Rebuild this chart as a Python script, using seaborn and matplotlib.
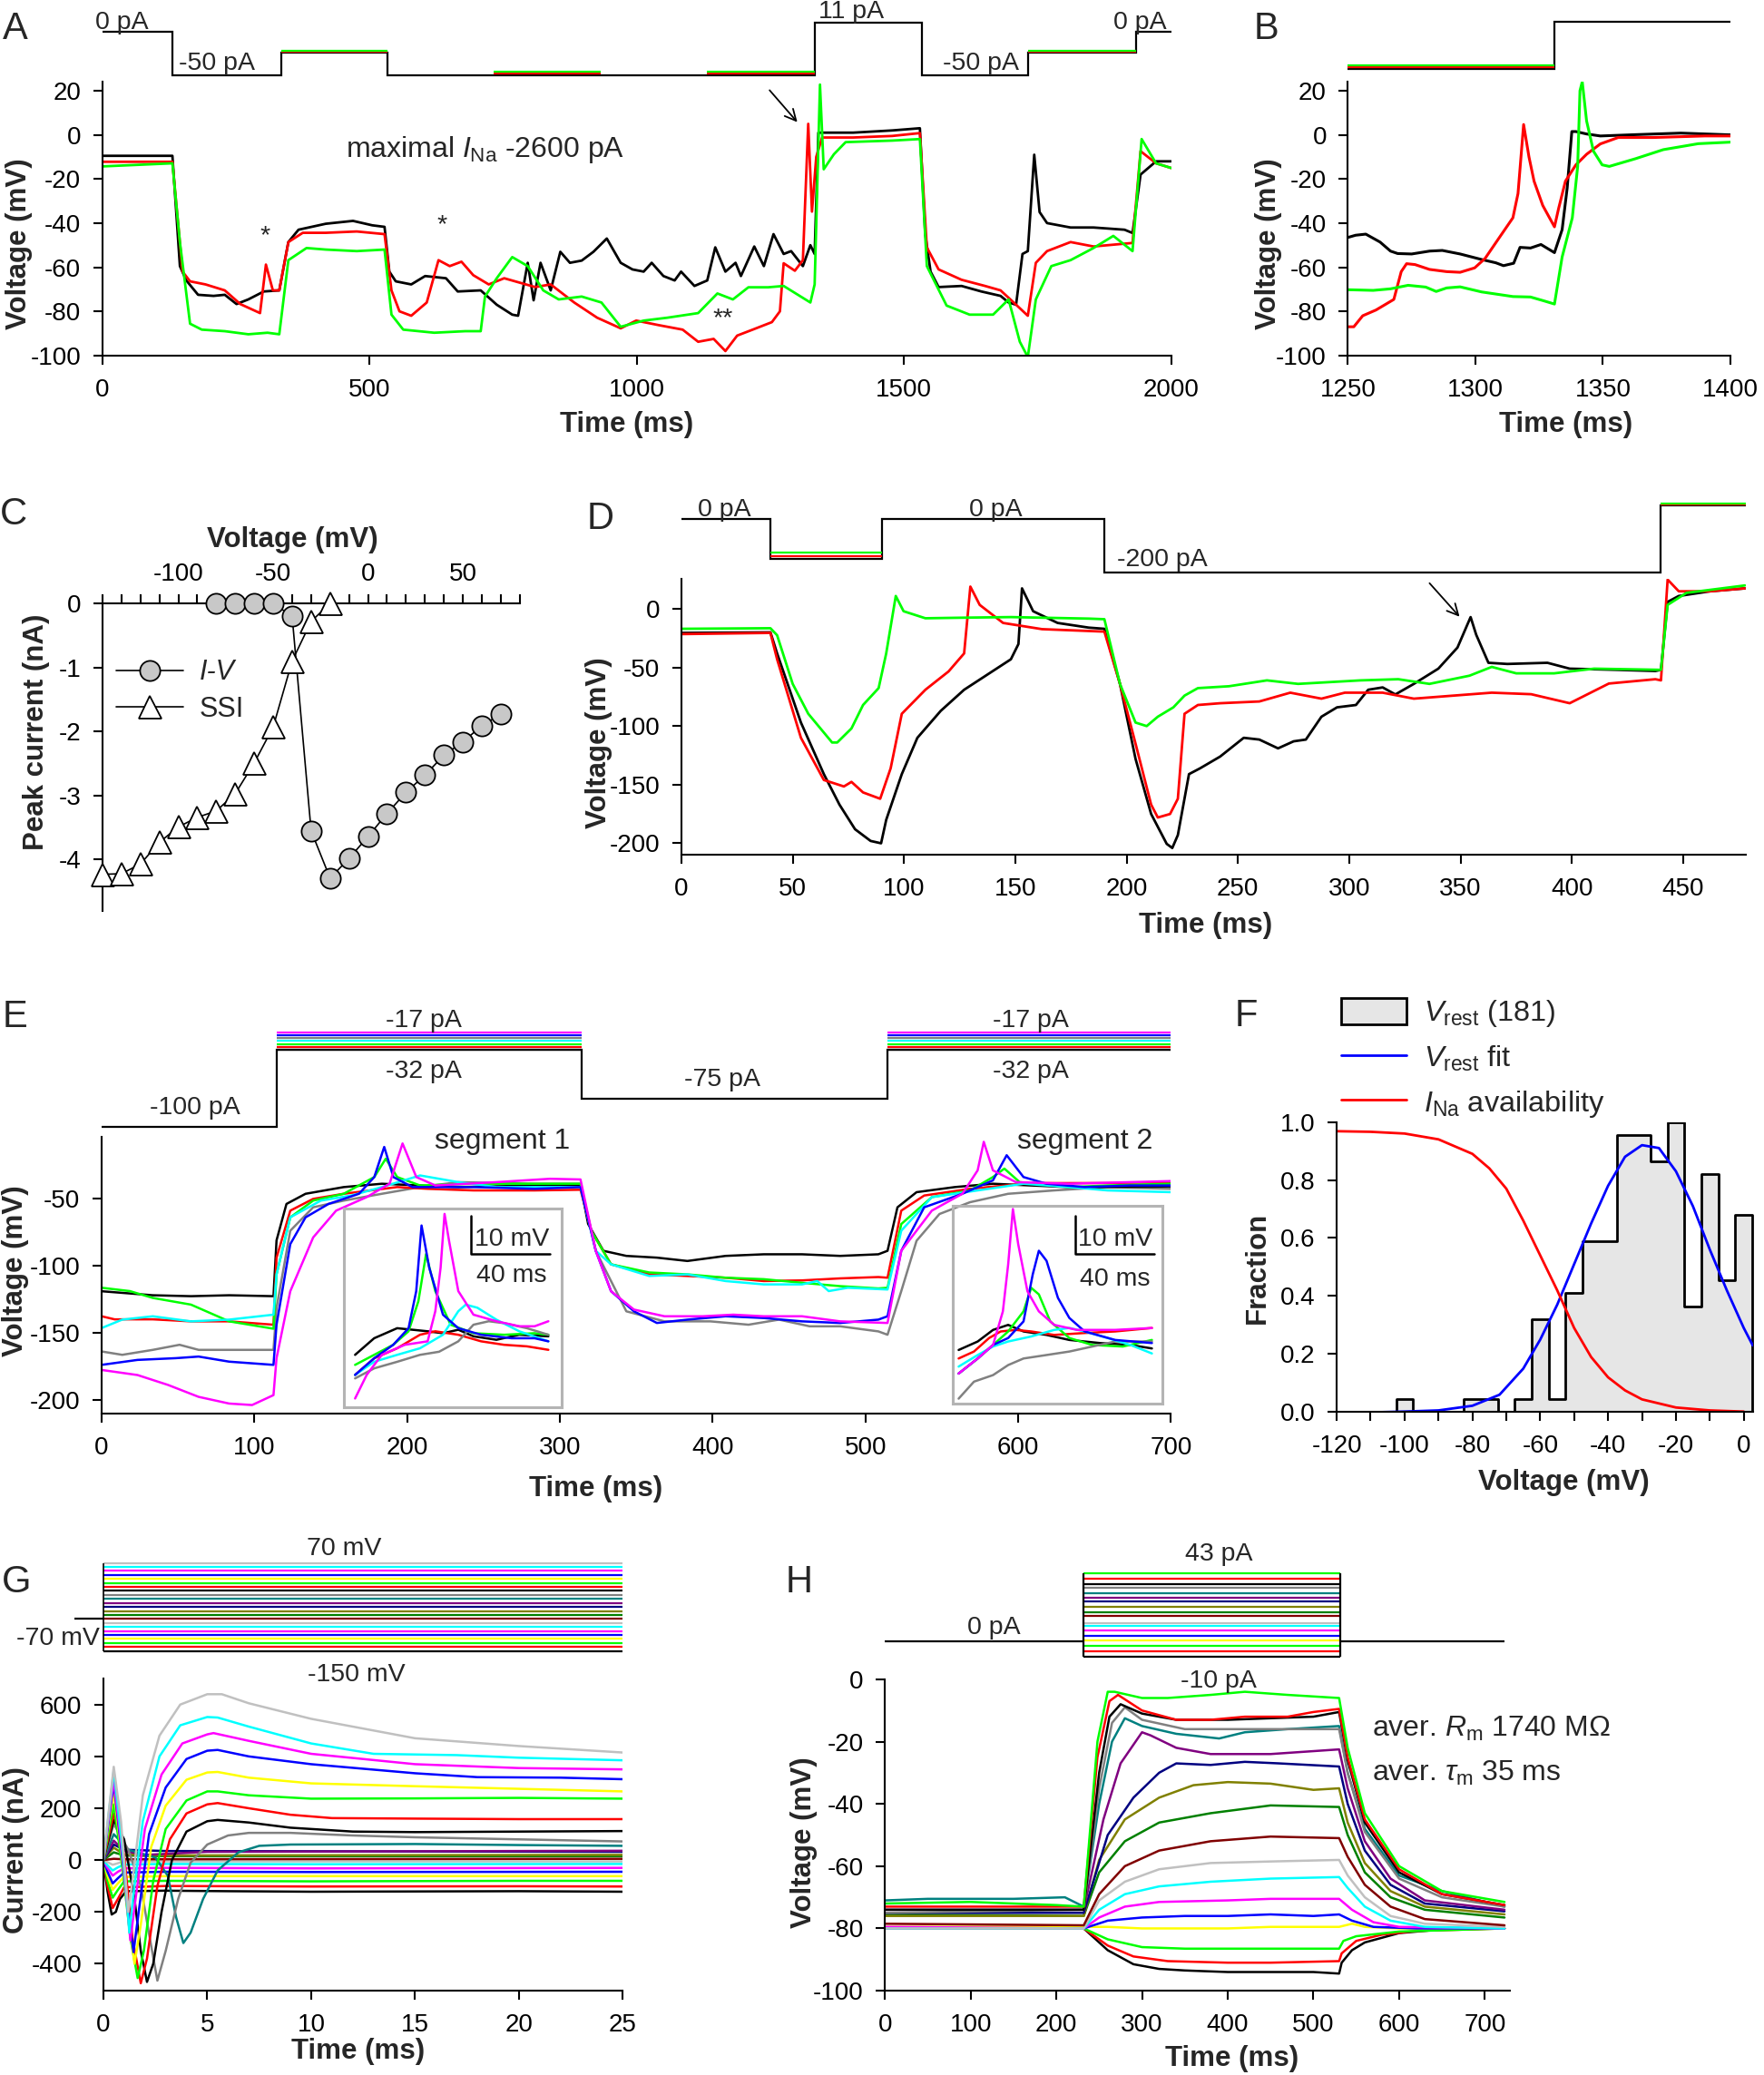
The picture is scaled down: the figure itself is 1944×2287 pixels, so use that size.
import numpy as np
import matplotlib
matplotlib.use('Agg')
import matplotlib.pyplot as plt
from matplotlib.lines import Line2D
from matplotlib.patches import Patch
import seaborn as sns

# ---------------- data ----------------
# colours (SigmaPlot default cycle)
BLACK, RED, GREEN, YELLOW = '#000000', '#ff0000', '#00ff00', '#ffff00'
BLUE, MAGENTA, CYAN, LGRAY = '#0000ff', '#ff00ff', '#00ffff', '#c0c0c0'
DRED, DGREEN, OLIVE, NAVY = '#800000', '#008000', '#808000', '#000080'
PURPLE, TEAL, DGRAY = '#800080', '#008080', '#808080'

# A: voltage (mV) vs time (ms)
A_BLACK = [(0, -9.5), (131, -9.5), (145, -59.5), (157, -66), (179, -72.5), (208, -73), (229, -72.5),
           (251, -76.7), (273, -74.6), (302, -71), (331, -70.5), (348, -48.6), (367, -43), (418, -40.3),
           (469, -39), (505, -41), (528, -41.7), (537, -62), (549, -66.4), (578, -67.8), (604, -64),
           (643, -65), (665, -71), (708, -70.5), (738, -77), (767, -81.5), (778, -82), (796, -58),
           (807, -75), (820, -58), (839, -70.5), (857, -53), (875, -58), (897, -57), (919, -53),
           (944, -47), (970, -58), (992, -61), (1013, -62), (1028, -58), (1050, -64), (1071, -66),
           (1083, -62), (1108, -68.5), (1132, -66), (1147, -51), (1166, -62), (1185, -58), (1195, -64),
           (1220, -50.6), (1238, -59.5), (1256, -45), (1275, -54), (1289, -52.7), (1311, -59.5),
           (1325, -50), (1333, -54), (1340, 1), (1362, 1), (1405, 1), (1478, 2), (1530, 3), (1540, -45),
           (1550, -62), (1565, -69), (1608, -68.5), (1645, -71), (1681, -73), (1696, -76), (1710, -77),
           (1722, -54), (1732, -52.7), (1744, -9), (1754, -35), (1768, -40), (1812, -42), (1855, -42),
           (1913, -43), (1928, -44.5), (1943, -18), (1972, -12), (2000, -12)]
A_RED = [(0, -12.2), (131, -12.2), (150, -62), (164, -66.4), (193, -67.8), (229, -70.5), (258, -76.7),
         (295, -80.8), (306, -58.8), (319, -70.5), (331, -70.5), (348, -48.6), (375, -44.4), (418, -44.4),
         (476, -43.8), (528, -45), (541, -70.5), (556, -80), (578, -82), (607, -76), (629, -56.8),
         (650, -59.5), (672, -57.5), (694, -63.6), (723, -67.8), (752, -65), (810, -69), (839, -67.8),
         (883, -76), (926, -82.9), (970, -87.7), (999, -84.2), (1042, -86.3), (1086, -88.3), (1115, -93.8),
         (1144, -92.5), (1166, -98), (1188, -91), (1217, -88.3), (1253, -84.9), (1268, -80), (1275, -58.2),
         (1296, -61.6), (1311, -56.8), (1321, 5), (1328, -34.8), (1336, -10), (1347, -1.2), (1405, -1.2),
         (1478, -0.5), (1530, 0.8), (1543, -51), (1565, -61), (1608, -65.7), (1652, -68.5), (1681, -70.5),
         (1710, -77), (1732, -82), (1747, -58), (1768, -52.7), (1812, -48.6), (1855, -50.6), (1928, -49),
         (1943, -7.4), (1972, -12.9), (2000, -15)]
A_GREEN = [(0, -14.3), (131, -12.9), (145, -48.6), (164, -85.6), (186, -88.3), (229, -89), (273, -90.4),
           (309, -89.7), (331, -90.4), (348, -56.8), (382, -51.3), (418, -52), (476, -52.7), (528, -52),
           (541, -81.5), (563, -88.3), (621, -89.7), (679, -89), (708, -89), (716, -73.3), (738, -65),
           (767, -55.4), (796, -59.5), (825, -70.5), (854, -74.6), (897, -73.3), (934, -76), (970, -87),
           (1013, -84.2), (1057, -82.9), (1115, -80.8), (1151, -71.9), (1180, -74.6), (1209, -69.1),
           (1246, -69.1), (1275, -68.5), (1325, -76), (1333, -67.8), (1343, 22.8), (1350, -15.6),
           (1369, -8.8), (1391, -3.3), (1478, -2.6), (1530, -1.9), (1543, -59.5), (1580, -77.4),
           (1623, -81.5), (1667, -81.5), (1696, -74.6), (1717, -93.8), (1732, -100.7), (1747, -74.6),
           (1776, -59.5), (1812, -56.8), (1855, -51.3), (1892, -45.8), (1928, -52.7), (1945, -1.9),
           (1972, -12.9), (2000, -15)]
A_STIM_EDGES = [0, 131, 334, 534, 1333, 1533, 1733, 1934, 2000]
A_STIM_PA = [0, -50, -24.5, -50, 11, -50, -24.5, 0]
A_STIM_EXTRA = [(334, 534, -23, RED), (334, 534, -21.7, GREEN), (733, 933, -48.2, RED), (733, 933, -46.2, GREEN),
                (1132, 1333, -48.2, RED), (1132, 1333, -46.2, GREEN), (1733, 1934, -23, RED),
                (1733, 1934, -21.7, GREEN)]

# B: zoom of A around 1250-1400 ms
B_BLACK = [(1250, -46.5), (1253, -45.5), (1257, -45), (1262.6, -48.6), (1266.7, -52.7), (1269.5, -53.8),
           (1275, -54), (1282, -52.7), (1287, -52.4), (1294, -54), (1302.4, -56.5), (1308, -58), (1311, -59.3),
           (1315, -58.2), (1317.5, -51), (1321.6, -51.3), (1325.7, -49.7), (1331, -53.4), (1334, -43),
           (1336, -24), (1337.8, 1.5), (1339.4, 1.5), (1343.6, 0.4), (1349, -0.5), (1362.8, 0.1),
           (1380.6, 0.8), (1400, 0)]
B_RED = [(1250, -87), (1252.3, -87), (1255.8, -82), (1261, -79.4), (1268, -74.6), (1270.9, -62), (1273, -58.4),
         (1276.3, -58.8), (1282, -61), (1288.7, -62), (1294, -62.3), (1299.7, -60.3), (1303.8, -56),
         (1309, -47.2), (1314.7, -37.6), (1316.7, -26.6), (1318.9, 4.7), (1321, -10), (1323, -21),
         (1326.4, -32), (1331, -41.7), (1332.6, -33.5), (1335.3, -21), (1339.4, -13.6), (1343.6, -8.8),
         (1349, -4.1), (1356, -1.2), (1369.7, -1.2), (1390, -0.5), (1400, -0.5)]
B_GREEN = [(1250, -70.2), (1259.9, -70.5), (1266.7, -69.8), (1273.6, -68.2), (1280.5, -69), (1284.6, -71),
           (1288.7, -69.4), (1294, -68.9), (1302.4, -71.2), (1314.7, -73.3), (1321.6, -73.5), (1327, -75.3),
           (1331, -76.7), (1334, -55.4), (1338, -37.6), (1340.1, -14.3), (1341, 20), (1341.9, 24.1),
           (1343.6, 6.3), (1346.3, -7.4), (1349.7, -13.6), (1352.5, -14.3), (1362.8, -10.8), (1373.7, -6.7),
           (1387.4, -4), (1400, -3.3)]
B_STIM_EDGES = [1250, 1331, 1400]
B_STIM_PA = [-50, 11]
B_STIM_EXTRA = [(1250, 1331, -47.6, RED), (1250, 1331, -44.8, GREEN)]

# C: peak current (nA) vs voltage (mV)
C_IV_MV = [-80, -70, -60, -50, -40, -30, -20, -10, 0, 10, 20, 30, 40, 50, 60, 70]
C_IV_NA = [0, 0, 0, 0, -0.2, -3.55, -4.29, -3.98, -3.64, -3.28, -2.95, -2.68, -2.37, -2.16, -1.91, -1.73]
C_SSI_MV = [-140, -130, -120, -110, -100, -90, -80, -70, -60, -50, -40, -30, -20]
C_SSI_NA = [-4.23, -4.22, -4.07, -3.73, -3.49, -3.34, -3.24, -2.97, -2.49, -1.93, -0.9, -0.28, 0.0]

# D
D_BLACK = [(0, -20.5), (40, -20), (43, -38), (53.7, -97), (64, -141), (71, -167), (78, -188), (85, -198),
           (89.7, -200), (92, -180), (99, -141), (106, -110), (116.5, -87), (127, -69), (137.5, -56),
           (148, -43), (151.4, -30), (153, 17.5), (158, -2), (169, -12), (183, -16), (190, -17), (197, -64),
           (204, -128), (211, -175), (218, -200.5), (220.5, -204), (223, -193), (228, -141), (233, -136),
           (242, -126), (252.6, -110), (259.6, -111.5), (268, -119), (275, -113), (280.5, -111.5),
           (287.5, -92), (294.5, -84), (303, -82), (308.5, -69), (315, -67), (320.7, -73), (329, -64),
           (340, -51), (348.6, -33), (354.5, -7), (357, -22), (362.5, -46), (371, -47), (389, -46),
           (399, -51), (420, -52), (437.5, -53), (440, -52), (443, 6), (448, 11), (462, 15), (477.7, 17.5)]
D_RED = [(0, -21.5), (40, -20.5), (43, -43), (53.7, -110), (64, -146), (73, -151.5), (76.4, -147.6),
         (81.6, -156.6), (89.3, -162), (94, -136), (99, -89.5), (109.6, -69), (120, -53.4), (127, -38),
         (129.8, 19), (134, 3.4), (144.5, -12), (162, -17.3), (190, -19.4), (197, -64), (204, -115),
         (211, -167), (214, -178), (219.5, -175), (223, -162), (226, -89.5), (232, -82), (242, -80.5),
         (259.6, -79), (273.5, -71.5), (287.5, -76.6), (298, -71.5), (315, -71.5), (329, -76.6), (346.8, -74),
         (364, -71.5), (381.7, -72.8), (399, -80.5), (416.6, -63.7), (437.5, -60), (440, -61), (443, 25),
         (448, 15), (462, 15), (477.7, 17.5)]
D_GREEN = [(0, -17), (40, -16.5), (43, -22.5), (50, -64), (57, -89.5), (67.7, -114), (70, -114), (76.4, -102),
           (81.6, -82), (88.6, -67.6), (92, -38), (96.3, 11), (99.8, -2), (109.6, -8), (127, -7.5), (148, -7),
           (183, -8.3), (190, -8.8), (197, -64), (204, -97), (209, -100), (214, -92), (221, -84), (226, -74),
           (232, -67.6), (246, -66), (263, -61), (277, -64), (305, -61), (322, -60), (336, -64), (354, -57),
           (364, -49.5), (375, -55), (392, -55), (410, -51), (440, -52), (443, 3.4), (451.5, 13.7),
           (477.7, 20)]
D_STIM_EDGES = [0, 40, 90, 190, 440, 478]
D_STIM_PA = [0, -149, 0, -200, 51]
D_STIM_EXTRA = [(40, 90, -138, RED), (40, 90, -127, GREEN), (440, 478, 55, RED), (440, 478, 61, GREEN)]

# E: seven cells
E_BLACK = [(0, -119), (33.5, -122), (58.5, -122.7), (83.5, -122), (112.5, -122.7), (114.5, -81), (121, -53.8),
           (133.5, -46.2), (158.5, -41.2), (183.5, -38.7), (208.5, -40), (233.5, -41.2), (283.5, -40),
           (313.5, -39.5), (318.5, -68.8), (328.5, -88.8), (343.5, -92.6), (363.5, -93.9), (383.5, -96.4),
           (408.5, -92.6), (433.5, -91.4), (458.5, -91.4), (483.5, -92.6), (508.5, -91.4), (514.5, -88.8),
           (521, -56.3), (533.5, -45), (558.5, -41.2), (583.5, -38.7), (608.5, -40), (633.5, -41.2),
           (658.5, -41.2), (700, -40.7)]
E_RED = [(0, -137.7), (8.5, -140), (33.5, -140), (58.5, -141.5), (83.5, -141.5), (112.5, -144), (114.5, -94),
         (123.5, -58.8), (138.5, -50), (158.5, -46.2), (193.5, -41.2), (213.5, -42.5), (243.5, -43.7),
         (283.5, -43.7), (313.5, -43.2), (320.5, -73.8), (333.5, -98.9), (358.5, -106.4), (383.5, -107.6),
         (408.5, -108.9), (433.5, -111.4), (458.5, -110.9), (483.5, -109.4), (508.5, -108.4), (514.5, -108.9),
         (523.5, -58.8), (538.5, -47.5), (568.5, -42.5), (608.5, -38.2), (658.5, -38.2), (700, -37.5)]
E_GREEN = [(0, -116.4), (18.5, -118.9), (33.5, -124), (58.5, -129), (83.5, -141.5), (112.5, -147),
           (114.5, -106.4), (123.5, -63.8), (138.5, -51.3), (158.5, -46.2), (178.5, -33.7), (186, -20),
           (193.5, -33.7), (208.5, -40), (243.5, -38.7), (283.5, -38.7), (313.5, -38.7), (320.5, -73.8),
           (333.5, -98.9), (358.5, -105), (383.5, -106.4), (408.5, -108.9), (433.5, -110), (458.5, -112.7),
           (483.5, -115.2), (508.5, -116.9), (514.5, -116.4), (523.5, -68.8), (543.5, -48.7), (568.5, -43.7),
           (583.5, -33.7), (591, -27.4), (601, -37.5), (633.5, -41.2), (658.5, -40), (700, -38.7)]
E_BLUE = [(0, -174), (23.5, -170.3), (48.5, -169), (63.5, -167.8), (83.5, -171.6), (112.5, -174), (114.5, -144),
          (123.5, -83.8), (133.5, -63.8), (148.5, -53.8), (168.5, -46.2), (178.5, -33.7), (185, -11.2),
          (191, -33.7), (203.5, -41.2), (243.5, -41.2), (283.5, -42.5), (313.5, -41.2), (323.5, -88.8),
          (333.5, -119), (348.5, -134), (363.5, -142.7), (383.5, -140.2), (408.5, -137.7), (433.5, -139),
          (458.5, -141.5), (483.5, -142.7), (508.5, -140.2), (514.5, -137.7), (523.5, -88.8), (538.5, -56.3),
          (563.5, -46.2), (583.5, -36.2), (592.5, -17.4), (603.5, -33.7), (618.5, -38.7), (643.5, -41.2),
          (673.5, -40), (700, -40)]
E_MAGENTA = [(0, -177.8), (23.5, -181.6), (43.5, -189), (63.5, -197.9), (83.5, -202.9), (98.5, -204),
             (112.5, -196.6), (114.5, -169), (123.5, -119), (138.5, -78.8), (153.5, -58.8), (173.5, -48.7),
             (188.5, -38.7), (197, -8.6), (206, -33.7), (218.5, -40), (258.5, -37.5), (293.5, -35),
             (313.5, -35.5), (323.5, -88.8), (333.5, -119), (348.5, -132.7), (368.5, -137.7), (393.5, -137.7),
             (413.5, -136.5), (433.5, -137.7), (458.5, -137.7), (483.5, -141.5), (514.5, -142.7), (523.5, -88.8),
             (543.5, -58.8), (563.5, -46.2), (573.5, -28.7), (577.5, -7.4), (583.5, -28.7), (598.5, -37.5),
             (633.5, -38.7), (700, -36.7)]
E_CYAN = [(0, -146.5), (13.5, -140.2), (33.5, -137.7), (58.5, -141.5), (83.5, -140.2), (112.5, -136.5),
          (114.5, -106.4), (123.5, -63.8), (143.5, -51.3), (163.5, -47.5), (183.5, -41.2), (208.5, -32.5),
          (233.5, -37.5), (258.5, -41.2), (283.5, -41.2), (313.5, -41.2), (323.5, -88.8), (333.5, -98.9),
          (358.5, -107.6), (383.5, -106.4), (408.5, -111.4), (433.5, -113.9), (458.5, -113.9), (468.5, -111.4),
          (476, -118.9), (488.5, -116.4), (514.5, -117.7), (523.5, -73.8), (543.5, -48.7), (573.5, -43.7),
          (603.5, -38.7), (633.5, -41.2), (658.5, -43.7), (700, -45)]
E_GRAY = [(0, -164), (13.5, -166.5), (33.5, -162.8), (51, -159), (63.5, -162.8), (83.5, -162.8), (112.5, -162.8),
          (114.5, -131.5), (123.5, -73.8), (138.5, -56.3), (158.5, -51.3), (183.5, -46.2), (208.5, -41.2),
          (233.5, -37.5), (283.5, -38.7), (313.5, -38.7), (323.5, -88.8), (343.5, -134), (368.5, -141.5),
          (398.5, -141.5), (423.5, -144), (443.5, -140.2), (463.5, -145.2), (483.5, -145.2), (508.5, -149),
          (514.5, -151.5), (523.5, -118.9), (533.5, -81.3), (548.5, -61.3), (568.5, -52.5), (593.5, -46.2),
          (623.5, -43.7), (658.5, -41.2), (700, -42.5)]
E_STIM_EDGES = [0, 114.5, 314.5, 514.5, 700]
E_STIM_PA = [-100, -32, -75, -32]
E_STEP_PA = [-32, -29.5, -27, -24.5, -22, -19.5, -17]
E_STEP_COLORS = [BLACK, RED, GREEN, CYAN, DGRAY, BLUE, MAGENTA]
# insets: time (ms) and voltage (mV) inside each grey box
E_IN1_BLACK = [(5.8, 13.5), (15.5, 17.8), (27.2, 20.4), (35, 20), (42.7, 19.6), (50.5, 19.1), (58.3, 20),
               (66, 18.3), (77.7, 17.4), (89.3, 18.7), (104.1, 18.3)]
E_IN1_RED = [(5.8, 8.3), (15.5, 12.6), (27.2, 15.2), (38.8, 18.7), (46.6, 19.6), (58.3, 18.7), (69.9, 17),
             (81.6, 16.1), (93.2, 15.7), (104.1, 14.8)]
E_IN1_GREEN = [(5.8, 10.9), (15.5, 13.5), (25.2, 16.1), (33, 19.6), (38, 27.4), (41.9, 39.6), (46.6, 30),
               (54.4, 21.3), (66, 19.1), (81.6, 18.7), (97.1, 19.1), (104.1, 18.7)]
E_IN1_BLUE = [(5.8, 8.3), (15.5, 12.6), (25.2, 16.1), (33, 20.4), (36.9, 30), (39.6, 47), (43.5, 36.1),
              (50.5, 23.9), (58.3, 20.4), (69.9, 18.7), (85.4, 17.8), (97.1, 17.8), (104.1, 17)]
E_IN1_MAGENTA = [(5.8, 2.2), (11.7, 8.3), (19.4, 13.5), (31.1, 16.1), (42.7, 17), (46.6, 24.8), (49.3, 36.1),
                 (51.3, 50), (53.6, 43), (58.3, 30), (66, 23.9), (77.7, 22.2), (89.3, 20.9), (97.1, 20.9),
                 (104.1, 22.2)]
E_IN1_CYAN = [(5.8, 8.3), (15.5, 11.7), (27.2, 13.5), (38.8, 15.2), (50.5, 18.7), (58.3, 24.8), (62.1, 26.5),
              (68, 25.7), (77.7, 22.6), (89.3, 19.6), (104.1, 17)]
E_IN1_GRAY = [(5.8, 7.4), (15.5, 10), (27.2, 11.7), (38.8, 13.5), (48.5, 14.3), (58.3, 17), (66, 21.3),
              (73.8, 22.2), (81.6, 21.7), (93.2, 20.4), (104.1, 18.7)]
E_IN2_BLACK = [(3.1, 13.9), (12.8, 16.1), (20.6, 19.1), (28.3, 20.4), (36.1, 18.7), (47.8, 17.8), (59.4, 16.5),
               (75, 15.7), (90.5, 15.2), (101.4, 14.3)]
E_IN2_RED = [(3.1, 11.7), (10.9, 13.5), (18.6, 17), (24.5, 18.7), (32.2, 19.1), (40, 18.7), (51.7, 17.8),
             (67.2, 18.3), (82.7, 18.7), (101.4, 19.6)]
E_IN2_GREEN = [(3.1, 7.8), (12.8, 11.7), (20.6, 15.2), (28.3, 18.7), (36.1, 23.9), (40, 30), (43.9, 28.3),
               (49.7, 21.3), (59.4, 17), (71.1, 15.2), (86.6, 14.8), (101.4, 16.5)]
E_IN2_BLUE = [(3.1, 7.8), (12.8, 11.7), (20.6, 15.2), (28.3, 17), (36.1, 21.3), (40.8, 33.5), (43.9, 39.6),
              (47.8, 37), (53.6, 27.4), (59.4, 22.2), (67.2, 18.7), (82.7, 16.5), (101.4, 15.7)]
E_IN2_MAGENTA = [(3.1, 7.8), (12.8, 11.7), (20.6, 15.2), (25.6, 23.9), (28.3, 36.1), (30.7, 50.4), (33.4, 41.3),
                 (38.1, 29.1), (43.9, 23.9), (51.7, 20.4), (63.3, 19.1), (82.7, 19.1), (101.4, 19.6)]
E_IN2_CYAN = [(3.1, 9.6), (12.8, 12.6), (20.6, 14.8), (28.3, 16.1), (40, 17.4), (51.7, 19.1), (59.4, 19.6),
              (67.2, 18.7), (78.8, 17), (90.5, 15.2), (101.4, 13)]
E_IN2_GRAY = [(3.1, 1.3), (10.9, 5.7), (20.6, 7.4), (28.3, 10), (36.1, 11.7), (47.8, 12.6), (59.4, 13.5),
              (71.1, 14.8), (82.7, 16.1), (94.4, 16.1), (101.4, 16.1)]

# F: resting potential histogram (fraction) and fits
F_BIN_EDGES = [-102.5, -97.5, -92.5, -87.5, -82.5, -77.5, -72.5, -67.5, -62.5, -57.5, -52.5, -47.5,
               -42.5, -37.5, -32.5, -27.5, -22.5, -17.5, -12.5, -7.5, -2.5, 2.5]
F_BIN_MV = [-100, -95, -90, -85, -80, -75, -70, -65, -60, -55, -50, -45, -40, -35, -30, -25, -20, -15, -10, -5, 0]
F_FRACTION = [0.045, 0, 0, 0, 0.045, 0.045, 0, 0.045, 0.32, 0.045, 0.41, 0.59, 0.59, 0.955, 0.955, 0.865,
              1.0, 0.365, 0.82, 0.455, 0.68]
F_FIT_MV = [-107, -100, -90, -80, -72, -65, -60, -55, -50, -45, -40, -35, -30, -25, -20, -15, -10, -5, 0, 2.65]
F_FIT = [0.0, 0.002, 0.006, 0.022, 0.06, 0.15, 0.25, 0.37, 0.51, 0.65, 0.78, 0.88, 0.92, 0.91, 0.83, 0.71,
         0.56, 0.42, 0.29, 0.23]
F_AVAIL_MV = [-120, -110, -100, -90, -80, -75, -70, -65, -60, -55, -50, -45, -40, -35, -30, -20, -10, 0]
F_AVAIL = [0.968, 0.966, 0.96, 0.94, 0.89, 0.84, 0.77, 0.66, 0.54, 0.42, 0.29, 0.19, 0.12, 0.075, 0.044,
           0.016, 0.006, 0.002]

# G: current (nA) vs time (ms), one trace per voltage step
G_STEP_MV = [-150, -140, -130, -120, -110, -100, -90, -80, -70, -60, -50, -40, -30, -20, -10,
             0, 10, 20, 30, 40, 50, 60, 70]
G_COLORS = [BLACK, RED, GREEN, YELLOW, BLUE, MAGENTA, CYAN, LGRAY, DRED, DGREEN, OLIVE, NAVY, PURPLE,
            TEAL, DGRAY, BLACK, RED, GREEN, YELLOW, BLUE, MAGENTA, CYAN, LGRAY]
G_M150 = [(0, 0), (0.2, -120), (0.4, -210), (0.6, -200), (0.8, -150), (1.1, -120), (3, -118), (6, -120),
          (10, -122), (15, -121), (20, -120), (25, -122)]
G_M140 = [(0, 0), (0.2, -100), (0.45, -185), (0.7, -150), (1.0, -105), (3, -100), (10, -102), (20, -101), (25, -102)]
G_M130 = [(0, 0), (0.2, -80), (0.45, -145), (0.7, -115), (1.0, -82), (3, -80), (10, -82), (20, -80), (25, -80)]
G_M120 = [(0, 0), (0.2, -60), (0.45, -115), (0.7, -90), (1.0, -65), (3, -62), (10, -62), (25, -62)]
G_M110 = [(0, 0), (0.2, -45), (0.45, -90), (0.7, -70), (1.0, -48), (3, -45), (10, -46), (25, -45)]
G_M100 = [(0, 0), (0.2, -30), (0.45, -60), (0.7, -45), (1.0, -32), (3, -30), (10, -32), (25, -30)]
G_M90 = [(0, 0), (0.2, -20), (0.45, -40), (0.7, -28), (1.0, -17), (3, -15), (10, -16), (25, -15)]
G_M80 = [(0, 0), (0.45, -18), (1.0, -5), (25, -5)]
G_M70 = [(0, 0), (0.5, 5), (1, 3), (25, 5)]
G_M60 = [(0, 0), (0.5, 30), (1, 18), (3, 15), (25, 15)]
G_M50 = [(0, 0), (0.5, 48), (1, 22), (3, 18), (25, 20)]
G_M40 = [(0, 0), (0.5, 60), (1, 40), (3, 35), (25, 32)]
G_M30 = [(0, 0), (0.5, 75), (1, 35), (2, 20), (5, 32), (25, 36)]
G_M20 = [(0, 0), (0.5, 100), (1.2, 40), (2.5, 10), (3.1, -60), (3.5, -220), (3.85, -320), (4.2, -280),
         (4.8, -150), (5.5, -40), (6.5, 30), (7.5, 55), (9, 60), (15, 62), (20, 58), (25, 55)]
G_M10 = [(0, 0), (0.5, 140), (1.2, 40), (1.8, -100), (2.3, -330), (2.6, -465), (3.0, -350), (3.6, -150),
         (4.2, -10), (5, 60), (6, 95), (7, 105), (9, 105), (12, 95), (15, 88), (20, 80), (25, 72)]
G_0 = [(0, 0), (0.5, 155), (1.0, 80), (1.5, -150), (1.8, -350), (2.1, -470), (2.4, -400), (2.8, -200),
       (3.3, 0), (4.0, 110), (5.0, 150), (5.5, 155), (7, 145), (9, 125), (12, 110), (15, 108), (20, 110), (25, 112)]
G_P10 = [(0, 0), (0.5, 180), (1.0, 20), (1.4, -300), (1.8, -475), (2.1, -380), (2.6, -100), (3.2, 80),
         (4, 180), (5, 215), (5.5, 220), (7, 200), (9, 175), (11, 162), (15, 160), (20, 158), (25, 158)]
G_P20 = [(0, 0), (0.5, 215), (0.95, -50), (1.3, -300), (1.65, -455), (1.95, -350), (2.4, -80), (3.0, 120),
         (4, 230), (5, 265), (5.5, 265), (7, 250), (10, 237), (15, 238), (20, 240), (25, 237)]
G_P30 = [(0, 0), (0.5, 265), (0.95, -30), (1.25, -250), (1.5, -400), (1.8, -250), (2.3, 50), (3, 210),
         (4, 310), (5, 338), (5.5, 340), (7, 318), (10, 296), (15, 285), (20, 275), (25, 265)]
G_P40 = [(0, 0), (0.5, 295), (0.95, -20), (1.2, -200), (1.45, -355), (1.7, -200), (2.2, 100), (3, 280),
         (4, 390), (5, 422), (5.5, 425), (7, 400), (10, 370), (15, 335), (18, 320), (22, 318), (25, 312)]
G_P50 = [(0, 0), (0.5, 310), (0.95, 0), (1.15, -180), (1.3, -310), (1.55, -150), (2.0, 120), (2.8, 330),
         (3.8, 450), (5, 485), (5.3, 490), (7, 460), (10, 410), (15, 370), (20, 355), (25, 350)]
G_P60 = [(0, 0), (0.5, 345), (0.9, 60), (1.1, -120), (1.25, -280), (1.45, -130), (1.9, 150), (2.7, 400),
         (3.7, 520), (5, 552), (5.5, 550), (7, 515), (10, 450), (13, 410), (17, 405), (20, 395), (25, 385)]
G_P70 = [(0, 0), (0.5, 360), (0.85, 150), (1.05, -50), (1.2, -200), (1.4, -80), (1.9, 250), (2.7, 480),
         (3.7, 600), (5, 640), (5.7, 640), (7, 605), (10, 545), (15, 470), (20, 440), (25, 415)]
G_TRACES = [G_M150, G_M140, G_M130, G_M120, G_M110, G_M100, G_M90, G_M80, G_M70, G_M60, G_M50, G_M40,
            G_M30, G_M20, G_M10, G_0, G_P10, G_P20, G_P30, G_P40, G_P50, G_P60, G_P70]

# H: voltage (mV) vs time (ms), one trace per current step
H_STEP_PA = [-10, -6.6, -3.1, 0.4, 3.3, 6.5, 9.6, 11.3, 15.7, 18.3, 21.8, 25.1, 27.3, 30.5, 33.8, 36.0, 39.7, 43.0]
H_COLORS = [BLACK, RED, GREEN, YELLOW, BLUE, MAGENTA, CYAN, LGRAY, DRED, DGREEN, OLIVE, NAVY, PURPLE,
            TEAL, DGRAY, BLACK, RED, GREEN]
H_TR1 = [(0, -80), (232, -80), (260, -87), (290, -91.5), (320, -93), (350, -93.5), (400, -94), (450, -94),
         (500, -94), (530, -94.5), (533, -91), (545, -87), (560, -84.5), (600, -81.5), (650, -80.3), (723, -80)]
H_TR2 = [(0, -80), (232, -80), (260, -85.5), (290, -89), (330, -90.5), (400, -91), (450, -91), (530, -90.5),
         (533, -88), (550, -84), (580, -82), (620, -80.8), (723, -80)]
H_TR3 = [(0, -80), (232, -80), (260, -83.5), (300, -86), (350, -86.5), (450, -86.5), (530, -86.5), (535, -84),
         (550, -82.5), (600, -81), (723, -80)]
H_TR4 = [(0, -79.5), (230, -79.5), (260, -79.5), (300, -80), (400, -80), (450, -79.5), (530, -79.5),
         (545, -78.5), (560, -79.5), (600, -80), (723, -80)]
H_TR5 = [(0, -80), (232, -80), (260, -77.5), (300, -76.5), (350, -76), (400, -76), (450, -75.5), (500, -76),
         (530, -75.5), (545, -77.5), (570, -79.5), (620, -80), (723, -80)]
H_TR6 = [(0, -79.5), (232, -80), (250, -76.5), (280, -73), (320, -71.5), (400, -71), (450, -70.5), (530, -70.5),
         (545, -74), (570, -78), (600, -79.5), (723, -80)]
H_TR7 = [(0, -80), (232, -80), (250, -74), (280, -69), (320, -66.5), (380, -65), (450, -64), (530, -63.5),
         (540, -67), (560, -73), (590, -77.5), (630, -79.5), (723, -80)]
H_TR8 = [(0, -80), (232, -80), (250, -71), (280, -65), (320, -61), (380, -59), (450, -58.5), (530, -58),
         (540, -63), (560, -70), (590, -76), (630, -78.5), (723, -79.5)]
H_TR9 = [(0, -78.5), (232, -79), (250, -69), (280, -60), (320, -55), (380, -52), (450, -50.5), (530, -51),
         (540, -57), (560, -66), (590, -73), (630, -77), (723, -79)]
H_TR10 = [(0, -75.5), (232, -76), (250, -62), (280, -52), (320, -46), (380, -43), (450, -40.5), (530, -41),
          (540, -50), (560, -62), (590, -70), (630, -74), (723, -76.5)]
H_TR11 = [(0, -76), (232, -76), (250, -58), (280, -45), (320, -38), (360, -34), (400, -33), (450, -33.5),
          (500, -35.5), (530, -35), (540, -46), (560, -59), (590, -68), (630, -73), (723, -75.5)]
H_TR12 = [(0, -75), (232, -75), (260, -50), (290, -38), (320, -30), (340, -27), (380, -27.5), (420, -26.5),
          (460, -27), (530, -28), (540, -40), (560, -55), (590, -66), (630, -72), (723, -74.5)]
H_TR13 = [(0, -74), (232, -74), (255, -45), (275, -27), (300, -17), (310, -18), (340, -22), (380, -24),
          (450, -24), (530, -22.5), (540, -35), (560, -52), (590, -64), (630, -71), (723, -74)]
H_TR14 = [(0, -71), (50, -70.5), (150, -70.5), (210, -70), (232, -73), (250, -40), (265, -20), (280, -12.5),
          (300, -15), (340, -17.5), (390, -19), (420, -17), (470, -16), (530, -15), (540, -30), (560, -48),
          (600, -63), (650, -68), (723, -73)]
H_TR15 = [(0, -75), (232, -74), (250, -35), (265, -14), (280, -9), (300, -13), (350, -16), (450, -16),
          (530, -16), (540, -30), (560, -49), (600, -64), (650, -70), (723, -73)]
H_TR16 = [(0, -74), (232, -74), (250, -30), (262, -12), (275, -8), (300, -11), (340, -13), (400, -13),
          (450, -12.5), (500, -12), (530, -10.5), (540, -26), (560, -46), (600, -62), (650, -69), (723, -72.5)]
H_TR17 = [(0, -73), (232, -73), (248, -25), (262, -7), (272, -5), (300, -10), (340, -13), (380, -13),
          (420, -12), (470, -12), (500, -10.5), (530, -9.5), (540, -25), (560, -45), (600, -61), (650, -69),
          (723, -72.5)]
H_TR18 = [(0, -72), (100, -71.5), (200, -72.5), (232, -73), (248, -20), (260, -4), (268, -4), (300, -6),
          (330, -6), (380, -5), (420, -4), (470, -5), (530, -6), (540, -22), (560, -43), (600, -60),
          (650, -68), (723, -71.5)]
H_TRACES = [H_TR1, H_TR2, H_TR3, H_TR4, H_TR5, H_TR6, H_TR7, H_TR8, H_TR9, H_TR10, H_TR11, H_TR12,
            H_TR13, H_TR14, H_TR15, H_TR16, H_TR17, H_TR18]
H_ON, H_OFF, H_END = 232, 531, 723

# ---------------- style ----------------
sns.set_style('ticks')
plt.rcParams['font.family'] = ['Liberation Sans', 'DejaVu Sans']
plt.rcParams.update({
    'mathtext.fontset': 'custom',
    'mathtext.rm': 'Liberation Sans',
    'mathtext.it': 'Liberation Sans:italic',
    'mathtext.bf': 'Liberation Sans:bold',
    'axes.unicode_minus': False,
    'axes.linewidth': 1.5, 'axes.edgecolor': 'black',
    'xtick.major.width': 1.5, 'ytick.major.width': 1.5, 'xtick.minor.width': 1.5,
    'xtick.major.size': 7, 'ytick.major.size': 7, 'xtick.minor.size': 7,
    'xtick.labelsize': 20, 'ytick.labelsize': 20,
    'xtick.color': 'black', 'ytick.color': 'black',
})

LAB, NOTE, BIG, LETTER = 22.5, 20.5, 23, 30
W, H = 1333, 1568          # layout grid of the reference (pixels)
fig = plt.figure(figsize=(19.44, 22.87), dpi=100)


def rect(x0, y0, x1, y1):
    return [x0 / W, 1 - y1 / H, (x1 - x0) / W, (y1 - y0) / H]


def ftext(x, y, s, size=NOTE, **kw):
    kw.setdefault('ha', 'center')
    fig.text(x / W, 1 - y / H, s, fontsize=size, va='center', **kw)


def panel(bx, xlim, ylim, xticks, yticks):
    ax = fig.add_axes(rect(*bx))
    ax.set_xlim(xlim)
    ax.set_ylim(ylim)
    ax.set_xticks(xticks)
    ax.set_yticks(yticks)
    sns.despine(ax=ax)
    ax.tick_params(axis='x', pad=11)
    ax.tick_params(axis='y', pad=10)
    return ax


def overlay(x0, x1, y0, y1, xlim, ref):
    # stimulus strip: ref maps two current levels to pixel rows
    (v1, p1), (v2, p2) = ref
    k = (v1 - v2) / (p2 - p1)
    ax = fig.add_axes(rect(x0, y0, x1, y1))
    ax.set_xlim(xlim)
    ax.set_ylim(v2 - (y1 - p2) * k, v1 + (p1 - y0) * k)
    ax.axis('off')
    return ax


def trace(ax, pts, color, lw=2.0):
    t, v = zip(*pts)
    sns.lineplot(x=list(t), y=list(v), ax=ax, color=color, lw=lw, sort=False, estimator=None)


def stim(ax, edges, levels, extra=()):
    ax.stairs(levels, edges, baseline=None, color='black', lw=1.6, clip_on=False)
    for t0, t1, lev, col in extra:
        ax.hlines(lev, t0, t1, color=col, lw=1.6, clip_on=False)


# ---------------- A ----------------
axA = panel((77.4, 61.9, 884.9, 268.6), (0, 2000), (-100, 24), [0, 500, 1000, 1500, 2000], range(-100, 21, 20))
for pts, col in [(A_BLACK, BLACK), (A_RED, RED), (A_GREEN, GREEN)]:
    trace(axA, pts, col)
axA.annotate('', xy=(1303.7, 4.9), xytext=(1245.6, 21.1),
             arrowprops=dict(arrowstyle='->', lw=1.3, color='black', mutation_scale=22))
sA = overlay(77.4, 884.9, 0, 66, (0, 2000), ((0, 24.0), (-50, 56.7)))
stim(sA, A_STIM_EDGES, A_STIM_PA, A_STIM_EXTRA)
ftext(11.7, 21.7, 'A', LETTER)
for x, y, s in [(92, 17.1, '0 pA'), (164.1, 48, '-50 pA'), (642.9, 9.1, '11 pA'), (741.3, 48, '-50 pA'),
                (861.5, 17.1, '0 pA')]:
    ftext(x, y, s)
ftext(366.3, 113.1, r'maximal $I_{\mathrm{Na}}$ -2600 pA', BIG)
ftext(200.4, 178.3, '*')
ftext(334, 170.3, '*')
ftext(546.2, 241, '**')
ftext(14.7, 184, 'Voltage (mV)', LAB, weight='bold', rotation=90)
ftext(473.2, 321, 'Time (ms)', LAB, weight='bold')

# ---------------- B ----------------
axB = panel((1018.6, 61.9, 1307.6, 268.6), (1250, 1400), (-100, 24), [1250, 1300, 1350, 1400], range(-100, 21, 20))
for pts, col in [(B_BLACK, BLACK), (B_RED, RED), (B_GREEN, GREEN)]:
    trace(axB, pts, col, lw=2.2)
sB = overlay(1018.6, 1307.6, 0, 66, (1250, 1400), ((11, 16.7), (-50, 52.1)))
stim(sB, B_STIM_EDGES, B_STIM_PA, B_STIM_EXTRA)
ftext(957.1, 21.7, 'B', LETTER)
ftext(958.4, 184.5, 'Voltage (mV)', LAB, weight='bold', rotation=90)
ftext(1182.9, 321, 'Time (ms)', LAB, weight='bold')

# ---------------- C ----------------
axC = fig.add_axes(rect(77.4, 456, 392.8, 688.3))
axC.set_xlim(-140, 80)
axC.set_ylim(-4.8, 0)
cticks = list(range(-140, 81, 10))
axC.set_xticks(cticks)
axC.set_xticklabels([str(v) if v % 50 == 0 else '' for v in cticks])
axC.set_yticks([0, -1, -2, -3, -4])
axC.xaxis.tick_top()
axC.spines[['bottom', 'right']].set_visible(False)
axC.tick_params(axis='x', pad=7)
axC.tick_params(axis='y', pad=10)
sns.lineplot(x=C_IV_MV, y=C_IV_NA, ax=axC, color='black', lw=1.2, marker='o', markersize=16,
             markerfacecolor='#c8c8c8', markeredgecolor='black', markeredgewidth=1.3, clip_on=False,
             sort=False, estimator=None, zorder=3)
sns.lineplot(x=C_SSI_MV, y=C_SSI_NA, ax=axC, color='black', lw=1.2, marker='^', markersize=18,
             markerfacecolor='white', markeredgecolor='black', markeredgewidth=1.3, clip_on=False,
             sort=False, estimator=None, zorder=4)
hC = [Line2D([], [], color='black', lw=1.2, marker='o', markersize=16, markerfacecolor='#c8c8c8',
             markeredgecolor='black', markeredgewidth=1.3),
      Line2D([], [], color='black', lw=1.2, marker='^', markersize=18, markerfacecolor='white',
             markeredgecolor='black', markeredgewidth=1.3)]
legC = axC.legend(hC, ['I-V', 'SSI'], loc='center left', bbox_to_anchor=(88 / W, 1 - 522.3 / H),
                  bbox_transform=fig.transFigure, frameon=False, fontsize=22, handlelength=2.4,
                  handletextpad=0.6, labelspacing=0.35, borderpad=0, borderaxespad=0, numpoints=1)
legC.get_texts()[0].set_fontstyle('italic')
ftext(10.2, 388.6, 'C', LETTER)
ftext(220.8, 408, 'Voltage (mV)', LAB, weight='bold')
ftext(27.2, 553, 'Peak current (nA)', LAB, weight='bold', rotation=90)

# ---------------- D ----------------
axD = panel((514.9, 437.7, 1319.4, 646.1), (0, 478.2), (-210, 25.3), range(0, 451, 50), [0, -50, -100, -150, -200])
for pts, col in [(D_BLACK, BLACK), (D_RED, RED), (D_GREEN, GREEN)]:
    trace(axD, pts, col)
axD.annotate('', xy=(350.3, -8.3), xytext=(335.3, 23.5),
             arrowprops=dict(arrowstyle='->', lw=1.3, color='black', mutation_scale=22), annotation_clip=False)
sD = overlay(514.9, 1319.4, 370, 437, (0, 478.2), ((0, 392.4), (-200, 432.4)))
stim(sD, D_STIM_EDGES, D_STIM_PA, D_STIM_EXTRA)
ftext(453.7, 392, 'D', LETTER)
ftext(547.7, 385.1, '0 pA')
ftext(752.3, 385.1, '0 pA')
ftext(878.6, 422.8, '-200 pA')
ftext(452.5, 561, 'Voltage (mV)', LAB, weight='bold', rotation=90)
ftext(911, 699.4, 'Time (ms)', LAB, weight='bold')

# ---------------- E ----------------
axE = panel((76.8, 859.0, 884.8, 1068.3), (0, 700), (-210.5, -3.6), range(0, 701, 100), [-50, -100, -150, -200])
for pts, col in [(E_GRAY, DGRAY), (E_BLACK, BLACK), (E_RED, RED), (E_GREEN, GREEN), (E_CYAN, CYAN),
                 (E_BLUE, BLUE), (E_MAGENTA, MAGENTA)]:
    trace(axE, pts, col, lw=1.8)
sE = overlay(76.8, 884.8, 765, 858, (0, 700), ((-32, 793.1), (-100, 851.4)))
stim(sE, E_STIM_EDGES, E_STIM_PA)
for lev, col in zip(E_STEP_PA, E_STEP_COLORS):
    for t0, t1 in [(114.5, 314.5), (514.5, 700)]:
        sE.hlines(lev, t0, t1, color=col, lw=1.6, clip_on=False)

insets = [((259.7, 913.5, 424.2, 1063.2), 110.7,
           [(E_IN1_BLACK, BLACK), (E_IN1_RED, RED), (E_IN1_GREEN, GREEN), (E_IN1_GRAY, DGRAY),
            (E_IN1_CYAN, CYAN), (E_IN1_BLUE, BLUE), (E_IN1_MAGENTA, MAGENTA)], (64.9, 39.6), (85.4, 43.5, 33.9)),
          ((719.8, 911.0, 878.5, 1060.7), 106.8,
           [(E_IN2_BLACK, BLACK), (E_IN2_RED, RED), (E_IN2_GREEN, GREEN), (E_IN2_GRAY, DGRAY),
            (E_IN2_CYAN, CYAN), (E_IN2_BLUE, BLUE), (E_IN2_MAGENTA, MAGENTA)], (62.5, 38.7), (82.7, 42.6, 32.2))]
for bx, tw, tr, (sx, sy), (lx, ly1, ly2) in insets:
    ai = fig.add_axes(rect(*bx))
    ai.set_xlim(0, tw)
    ai.set_ylim(0, 51.3)
    ai.set_xticks([])
    ai.set_yticks([])
    for sp in ai.spines.values():
        sp.set_visible(True)
        sp.set_color('#b4b4b4')
        sp.set_linewidth(2.2)
    ai.patch.set_alpha(0)
    for pts, col in tr:
        trace(ai, pts, col, lw=1.8)
    ai.plot([sx, sx, sx + 40], [sy + 10, sy, sy], color='black', lw=1.8)
    ai.text(lx, ly1, '10 mV', fontsize=NOTE, ha='center', va='center')
    ai.text(lx, ly2, '40 ms', fontsize=NOTE, ha='center', va='center')

ftext(11.5, 768.9, 'E', LETTER)
for x, y, s in [(320.3, 771.5, '-17 pA'), (320.3, 809.5, '-32 pA'), (147.2, 837.4, '-100 pA'),
                (545.5, 815.9, '-75 pA'), (779.2, 771.5, '-17 pA'), (779.2, 809.5, '-32 pA')]:
    ftext(x, y, s)
ftext(379.8, 862.8, 'segment 1', BIG)
ftext(819.6, 862.8, 'segment 2', BIG)
ftext(11.5, 960.5, 'Voltage (mV)', LAB, weight='bold', rotation=90)
ftext(450.2, 1125.3, 'Time (ms)', LAB, weight='bold')

# ---------------- F ----------------
axF = panel((1010.1, 847.8, 1324.5, 1067.1), (-120, 2.65), (0, 1.0), range(-120, 1, 20),
            [0.0, 0.2, 0.4, 0.6, 0.8, 1.0])
axF.set_xticks([-110, -90, -70, -50, -30, -10], minor=True)
axF.set_yticklabels(['0.0', '0.2', '0.4', '0.6', '0.8', '1.0'])
sns.histplot(x=F_BIN_MV, weights=F_FRACTION, bins=F_BIN_EDGES, element='step', fill=True,
             facecolor='#e6e6e6', edgecolor='black', linewidth=2, alpha=1, ax=axF)
trace(axF, list(zip(F_FIT_MV, F_FIT)), BLUE, lw=2)
trace(axF, list(zip(F_AVAIL_MV, F_AVAIL)), RED, lw=2)
axF.set_xlim(-120, 2.65)
axF.set_ylim(0, 1.0)
axF.set_xlabel('')
axF.set_ylabel('')
hF = [Patch(facecolor='#e6e6e6', edgecolor='black', linewidth=2),
      Line2D([], [], color=BLUE, lw=2), Line2D([], [], color=RED, lw=2)]
axF.legend(hF, [r'$V_{\mathrm{rest}}$ (181)', r'$V_{\mathrm{rest}}$ fit', r'$I_{\mathrm{Na}}$ availability'],
           loc='center left', bbox_to_anchor=(1013.5 / W, 1 - 800 / H), bbox_transform=fig.transFigure,
           frameon=False, fontsize=23.4, handlelength=2.2, handleheight=1.0, handletextpad=0.6,
           labelspacing=0.5, borderpad=0, borderaxespad=0)
ftext(941.9, 767.7, 'F', LETTER)
ftext(950.2, 958, 'Fraction', LAB, weight='bold', rotation=90)
ftext(1182, 1120.3, 'Voltage (mV)', LAB, weight='bold')

# ---------------- G ----------------
axG = panel((78.1, 1268.4, 470.7, 1504), (0, 25), (-502.4, 700.5), range(0, 26, 5), range(-400, 601, 200))
for pts, col in zip(G_TRACES, G_COLORS):
    trace(axG, pts, col, lw=1.8)
sG = overlay(78.1, 470.7, 1165, 1258, (0, 25), ((70, 1181), (-150, 1247.6)))
for lev, col in zip(G_STEP_MV, G_COLORS):
    sG.hlines(lev, 0, 25, color=col, lw=1.6, clip_on=False)
sG.hlines(-70, -1.4, 0, color='black', lw=1.6, clip_on=False)
sG.vlines(0, -150, 70, color='black', lw=1.2, clip_on=False)
ftext(12.6, 1195.4, 'G', LETTER)
ftext(259.7, 1170.5, '70 mV')
ftext(44.1, 1238.4, '-70 mV')
ftext(269.2, 1265.8, '-150 mV')
ftext(12.6, 1397.7, 'Current (nA)', LAB, weight='bold', rotation=90)
ftext(270.7, 1550.5, 'Time (ms)', LAB, weight='bold')

# ---------------- H ----------------
axH = panel((668.7, 1269, 1140.8, 1504.3), (0, 729), (-100, 0), range(0, 701, 100), range(-100, 1, 20))
for pts, col in zip(H_TRACES, H_COLORS):
    trace(axH, pts, col, lw=1.8)
sH = overlay(668.7, 1140.8, 1180, 1262, (0, 729), ((43, 1188.8), (-10, 1252)))
sH.hlines(0, 0, H_ON, color='black', lw=1.6, clip_on=False)
sH.hlines(0, H_OFF, H_END, color='black', lw=1.6, clip_on=False)
for lev, col in zip(H_STEP_PA, H_COLORS):
    sH.hlines(lev, H_ON, H_OFF, color=col, lw=1.6, clip_on=False)
sH.vlines([H_ON, H_OFF], min(H_STEP_PA), max(H_STEP_PA), color='black', lw=1.6, clip_on=False)
ftext(604, 1195.4, 'H', LETTER)
ftext(921.1, 1174.4, '43 pA')
ftext(750.8, 1229.8, '0 pA')
ftext(921.1, 1270.6, '-10 pA')
ftext(1037, 1306.4, 'aver. $R_{\\mathrm{m}}$ 1740 M\u03a9', BIG, ha='left')
ftext(1037, 1340.3, 'aver. $\\tau_{\\mathrm{m}}$ 35 ms', BIG, ha='left')
ftext(607.4, 1392.5, 'Voltage (mV)', LAB, weight='bold', rotation=90)
ftext(930.8, 1555.7, 'Time (ms)', LAB, weight='bold')

fig.savefig('out.png', dpi=100)
